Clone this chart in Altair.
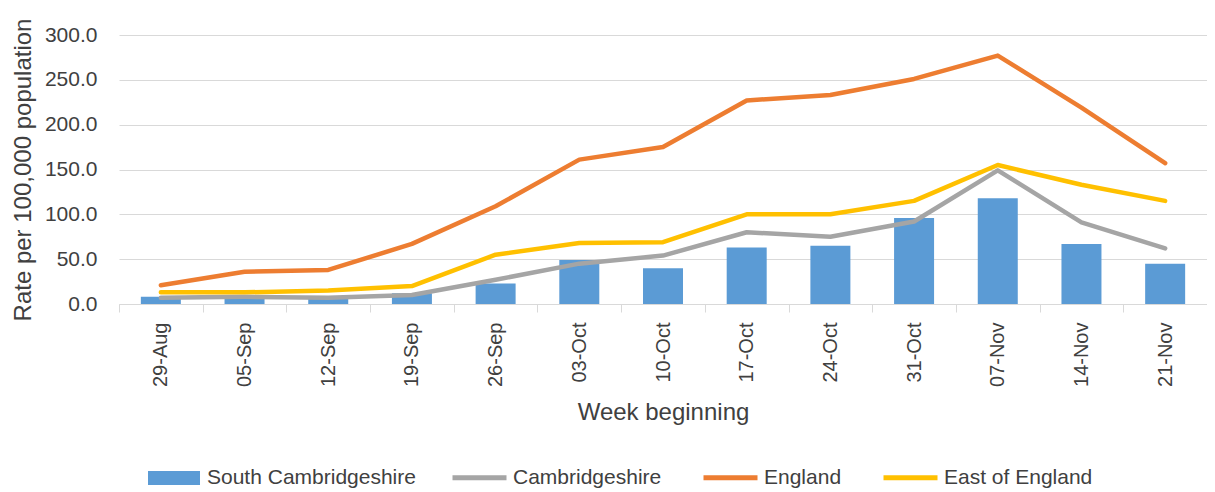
import altair as alt
import pandas as pd

weeks = ["29-Aug", "05-Sep", "12-Sep", "19-Sep", "26-Sep", "03-Oct", "10-Oct",
         "17-Oct", "24-Oct", "31-Oct", "07-Nov", "14-Nov", "21-Nov"]
south_cambs = [8, 6, 6, 12, 23, 49, 40, 63, 65, 96, 118, 67, 45]
cambs = [7, 8, 7, 10, 27, 45, 54, 80, 75, 92, 149, 91, 62]
england = [21, 36, 38, 67, 109, 161, 175, 227, 233, 251, 277, 219, 157]
east_of_england = [13, 13, 15, 20, 55, 68, 69, 100, 100, 115, 155, 133, 115]

bar_name = "South Cambridgeshire"
bar_color = "#5B9BD5"
line_names = ["Cambridgeshire", "England", "East of England"]
line_colors = ["#A5A5A5", "#ED7D31", "#FFC000"]
y_ticks = [0, 50, 100, 150, 200, 250, 300]

FONT = "Liberation Sans"
TXT = "#404040"

bar_df = pd.DataFrame({"week": weeks, "value": south_cambs, "area": bar_name})
rows = []
for name, vals in zip(line_names, [cambs, england, east_of_england]):
    for w, v in zip(weeks, vals):
        rows.append({"week": w, "value": v, "series": name})
line_df = pd.DataFrame(rows)

x_enc = alt.X(
    "week:N", sort=weeks, title="Week beginning",
    scale=alt.Scale(paddingInner=0, paddingOuter=0),
    axis=alt.Axis(labelAngle=270, tickBand="extent", tickSize=8, labelPadding=10,
                  labelFontSize=20, titleFontSize=24, titlePadding=14,
                  domainColor="#D9D9D9", tickColor="#D9D9D9", grid=False,
                  labelColor=TXT, titleColor=TXT, titleFontWeight="normal"),
)
y_enc = alt.Y(
    "value:Q", title="Rate per 100,000 population",
    scale=alt.Scale(domain=[0, 300], nice=False),
    axis=alt.Axis(values=y_ticks, format=".1f", labelFontSize=21, labelPadding=22,
                  domain=False, ticks=False, gridColor="#D9D9D9", titleFontSize=24,
                  titlePadding=9, labelColor=TXT, titleColor=TXT, titleFontWeight="normal"),
)

bars = alt.Chart(bar_df).mark_bar(width=40).encode(
    x=x_enc, y=y_enc,
    color=alt.Color("area:N", scale=alt.Scale(domain=[bar_name], range=[bar_color]),
                    legend=alt.Legend(orient="none", legendX=28, legendY=416, title=None,
                                      symbolType="M-1,-0.27H1V0.27H-1Z", symbolSize=2704,
                                      labelFontSize=21, labelLimit=400, labelOffset=6,
                                      labelColor=TXT, padding=0)),
)

lines = alt.Chart(line_df).mark_line(strokeWidth=4.5, strokeCap="round", strokeJoin="round").encode(
    x=x_enc, y=y_enc,
    color=alt.Color("series:N", sort=line_names,
                    scale=alt.Scale(domain=line_names, range=line_colors),
                    legend=alt.Legend(orient="none", legendX=331, legendY=413, title=None,
                                      direction="horizontal", symbolType="stroke",
                                      symbolStrokeWidth=5, symbolSize=2916,
                                      columnPadding=31, labelFontSize=21, labelLimit=400,
                                      labelOffset=4, labelColor=TXT, padding=0)),
    order=alt.Order("series:N"),
)

chart = alt.layer(bars, lines).resolve_scale(color="independent").properties(
    width=1088, height=269,
    padding={"left": 111, "top": 27, "right": 0, "bottom": 188},
    autosize=alt.AutoSizeParams(type="none"),
).configure(font=FONT).configure_view(stroke=None)

chart.save("out.html", embed_options={"renderer": "svg", "actions": False})
